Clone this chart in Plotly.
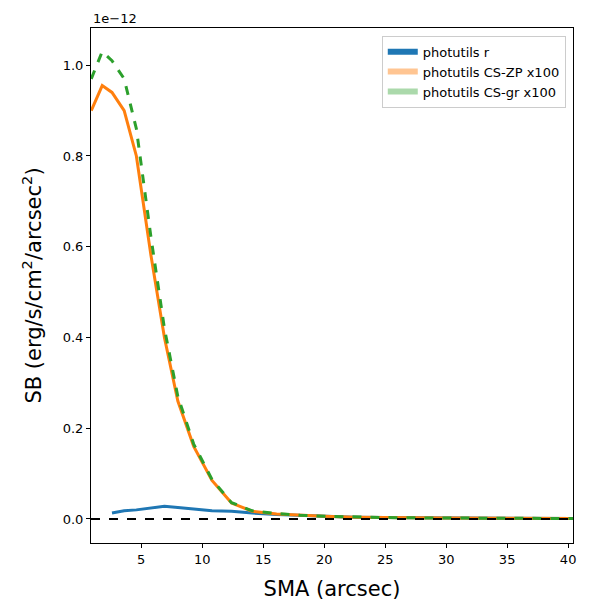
import plotly.graph_objects as go

# SMA samples (arcsec)
sma = [0.9, 1.8, 2.6, 3.6, 4.6, 5.8, 6.9, 8.0, 9.3, 10.8, 12.4, 14.1, 16.1, 18.0, 20.0, 22.5, 25.0, 30.0, 35.0, 40.5]
# surface brightness in units of 1e-12 erg/s/cm^2/arcsec^2
sb_r = [None, None, 0.013, 0.018, 0.020, 0.025, 0.028, 0.025, 0.021, 0.018, 0.017, 0.013, 0.010, 0.008, 0.006, 0.004, 0.003, 0.002, 0.0015, 0.001]
sb_zp = [0.90, 0.955, 0.94, 0.90, 0.80, 0.58, 0.40, 0.26, 0.16, 0.085, 0.035, 0.017, 0.011, 0.008, 0.006, 0.004, 0.003, 0.002, 0.0015, 0.001]
sb_gr = [0.97, 1.03, 1.01, 0.97, 0.86, 0.62, 0.42, 0.27, 0.165, 0.087, 0.036, 0.018, 0.012, 0.008, 0.006, 0.004, 0.003, 0.002, 0.0015, 0.001]

blue, orange, green = "#1f77b4", "#ff7f0e", "#2ca02c"

fig = go.Figure()
fig.add_trace(go.Scatter(x=sma, y=sb_r, mode="lines", line=dict(color=blue, width=3), showlegend=False))
fig.add_trace(go.Scatter(x=sma, y=sb_zp, mode="lines", line=dict(color=orange, width=3), showlegend=False))
fig.add_trace(go.Scatter(x=sma, y=sb_gr, mode="lines", line=dict(color=green, width=3, dash="dash"), showlegend=False))
fig.add_hline(y=0, line=dict(color="black", width=2, dash="dash"))

# legend patches
for name, col, op in [("photutils r", blue, 1.0), ("photutils CS-ZP x100", orange, 0.45), ("photutils CS-gr x100", green, 0.4)]:
    fig.add_trace(go.Scatter(x=[None], y=[None], mode="none", fill="toself", fillcolor=col,
                             opacity=op, name=name))

fig.add_annotation(text="1e\u221212", xref="paper", yref="paper", x=0, y=1.0, xanchor="left",
                   yanchor="bottom", showarrow=False, font=dict(size=13))

axis_common = dict(showgrid=False, zeroline=False, showline=True, linecolor="black", mirror=True,
                   ticks="outside", tickcolor="black", ticklen=4, tickfont=dict(size=13, color="black"))
fig.update_xaxes(range=[0.88, 40.4], tickvals=[5, 10, 15, 20, 25, 30, 35, 40],
                 title=dict(text="SMA (arcsec)", font=dict(size=21)), **axis_common)
fig.update_yaxes(range=[-0.053, 1.082], tickvals=[0, 0.2, 0.4, 0.6, 0.8, 1.0], tickformat=".1f",
                 title=dict(text="SB (erg/s/cm<sup>2</sup>/arcsec<sup>2</sup>)", font=dict(size=21)), **axis_common)
fig.update_layout(width=600, height=600, plot_bgcolor="white", paper_bgcolor="white",
                  font=dict(family="DejaVu Sans", color="black"),
                  margin=dict(l=83, r=35, t=20, b=55),
                  legend=dict(x=0.985, y=0.985, xanchor="right", yanchor="top", bordercolor="#cccccc",
                              borderwidth=1, font=dict(size=13)))
fig.write_html("out.html")
